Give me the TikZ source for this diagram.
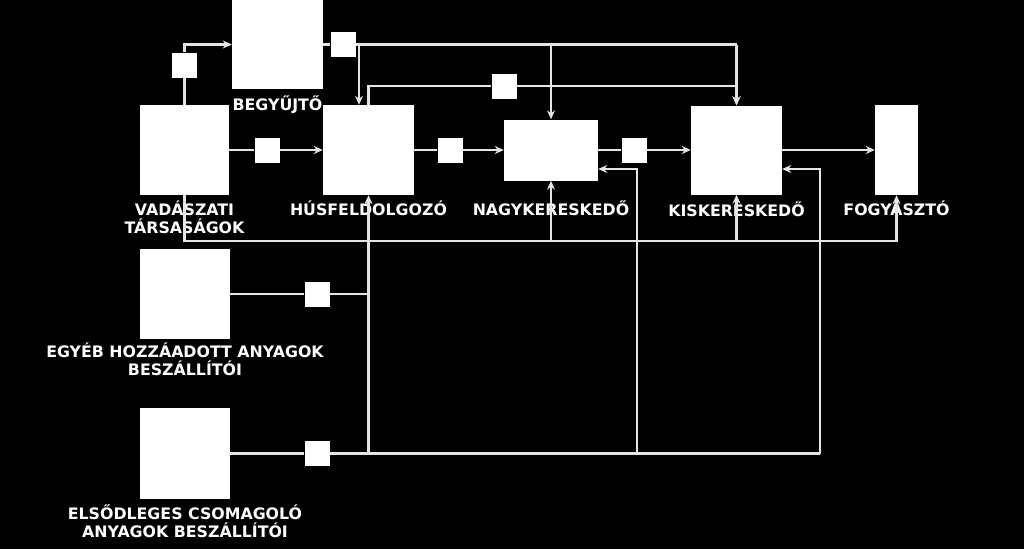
\documentclass[tikz,border=0pt]{standalone}
\usepackage{fontspec}
\setmainfont{DejaVu Sans}
\usetikzlibrary{arrows.meta,positioning}
\definecolor{vonalszin}{gray}{0.9}

\begin{document}
\begin{tikzpicture}[x=1pt, y=-1pt,
      doboz/.style={fill=white, draw=none, inner sep=0pt},
      kapu/.style={fill=white, draw=none, inner sep=0pt, minimum size=25pt},
      felirat/.style={text=white, font=\fontsize{15.8}{18.5}\selectfont\bfseries,
        align=center, inner sep=0pt},
      vonal/.style={draw=vonalszin, line width=2.2pt},
      nyil/.style={vonal, -{Stealth[length=9pt, width=8pt]}}
    ]
    \fill[black] (0,0) rectangle (1024,549);
    \useasboundingbox (0,0) rectangle (1024,549);
    % szereplok
    \node[doboz, minimum width=89pt, minimum height=90pt] (vad)    at (184.5,150) {};
    \node[doboz, minimum width=91pt, minimum height=89pt] (begy)   at (277.5,44.5) {};
    \node[doboz, minimum width=91pt, minimum height=90pt] (hus)    at (368.5,150) {};
    \node[doboz, minimum width=94pt, minimum height=61pt] (nagy)   at (551,150) {};
    \node[doboz, minimum width=91pt, minimum height=89pt] (kis)    at (736.5,150) {};
    \node[doboz, minimum width=43pt, minimum height=90pt] (fogy)   at (896.5,150) {};
    \node[doboz, minimum width=90pt, minimum height=90pt] (egyeb)  at (185,294) {};
    \node[doboz, minimum width=90pt, minimum height=91pt] (elso)   at (185,453.5) {};
    \node[felirat, below=5pt of vad]   {VADÁSZATI\\TÁRSASÁGOK};
    \node[felirat, below=6pt of begy]  {BEGYŰJTŐ};
    \node[felirat, below=5pt of hus]   {HÚSFELDOLGOZÓ};
    \node[felirat, below=20pt of nagy] {NAGYKERESKEDŐ};
    \node[felirat, below=7pt of kis]   {KISKERESKEDŐ};
    \node[felirat, below=5pt of fogy]  {FOGYASZTÓ};
    \node[felirat, below=3pt of egyeb] {EGYÉB HOZZÁADOTT ANYAGOK\\BESZÁLLÍTÓI};
    \node[felirat, below=5pt of elso]  {ELSŐDLEGES CSOMAGOLÓ\\ANYAGOK BESZÁLLÍTÓI};
    % kis negyzetek a vonalakon
    \foreach \n/\x/\y in {k1/184.5/65, k2/343/44.5, k3/267/150, k4/450/150,
        k5/504/86, k6/634/150, k7/317/294, k8/317/453.5} {
      \node[kapu] (\n) at (\x,\y) {}; }
    \coordinate (fent)  at (0,44.5);
    \coordinate (lent)  at (0,241);
    \coordinate (vissza) at (0,169);
    \coordinate (j1) at (359,44.5);
    \coordinate (j2) at (637,453.5);
    \coordinate (j3) at (820,453.5);
    % fo lanc
    \draw[vonal] (vad) -- (k3);   \draw[nyil] (k3) -- (hus);
    \draw[vonal] (hus) -- (k4);   \draw[nyil] (k4) -- (nagy);
    \draw[vonal] (nagy) -- (k6);  \draw[nyil] (k6) -- (kis);
    \draw[nyil] (kis) -- (fogy);
    % felso agak
    \draw[vonal] (vad.north) -- (k1);
    \draw[nyil] (k1) |- (begy.west);
    \draw[vonal] (begy.east) -- (k2);
    \draw[vonal] (k2) -- (fent -| kis.north);
    \draw[nyil] (fent -| kis.north) -- (kis.north);
    \draw[nyil] (j1) -- (j1 |- hus.north);
    \draw[nyil] (fent -| nagy.north) -- (nagy.north);
    \draw[vonal] (hus.north) |- (k5);
    \draw[nyil] (k5) -| (kis.north);
    % also sin
    \draw[nyil] (vad.south) |- (lent -| fogy.south) -- (fogy.south);
    \draw[nyil] (lent -| nagy.south) -- (nagy.south);
    \draw[nyil] (lent -| kis.south) -- (kis.south);
    % beszallitok
    \draw[vonal] (egyeb) -- (k7);
    \draw[vonal] (k7) -- (k7 -| hus.south);
    \draw[vonal] (elso) -- (k8);
    \draw[vonal] (k8) -- (j3);
    \draw[nyil] (k8 -| hus.south) -- (hus.south);
    \draw[nyil] (j2) |- (vissza -| nagy.east);
    \draw[nyil] (j3) |- (vissza -| kis.east);
  \end{tikzpicture}
\end{document}
